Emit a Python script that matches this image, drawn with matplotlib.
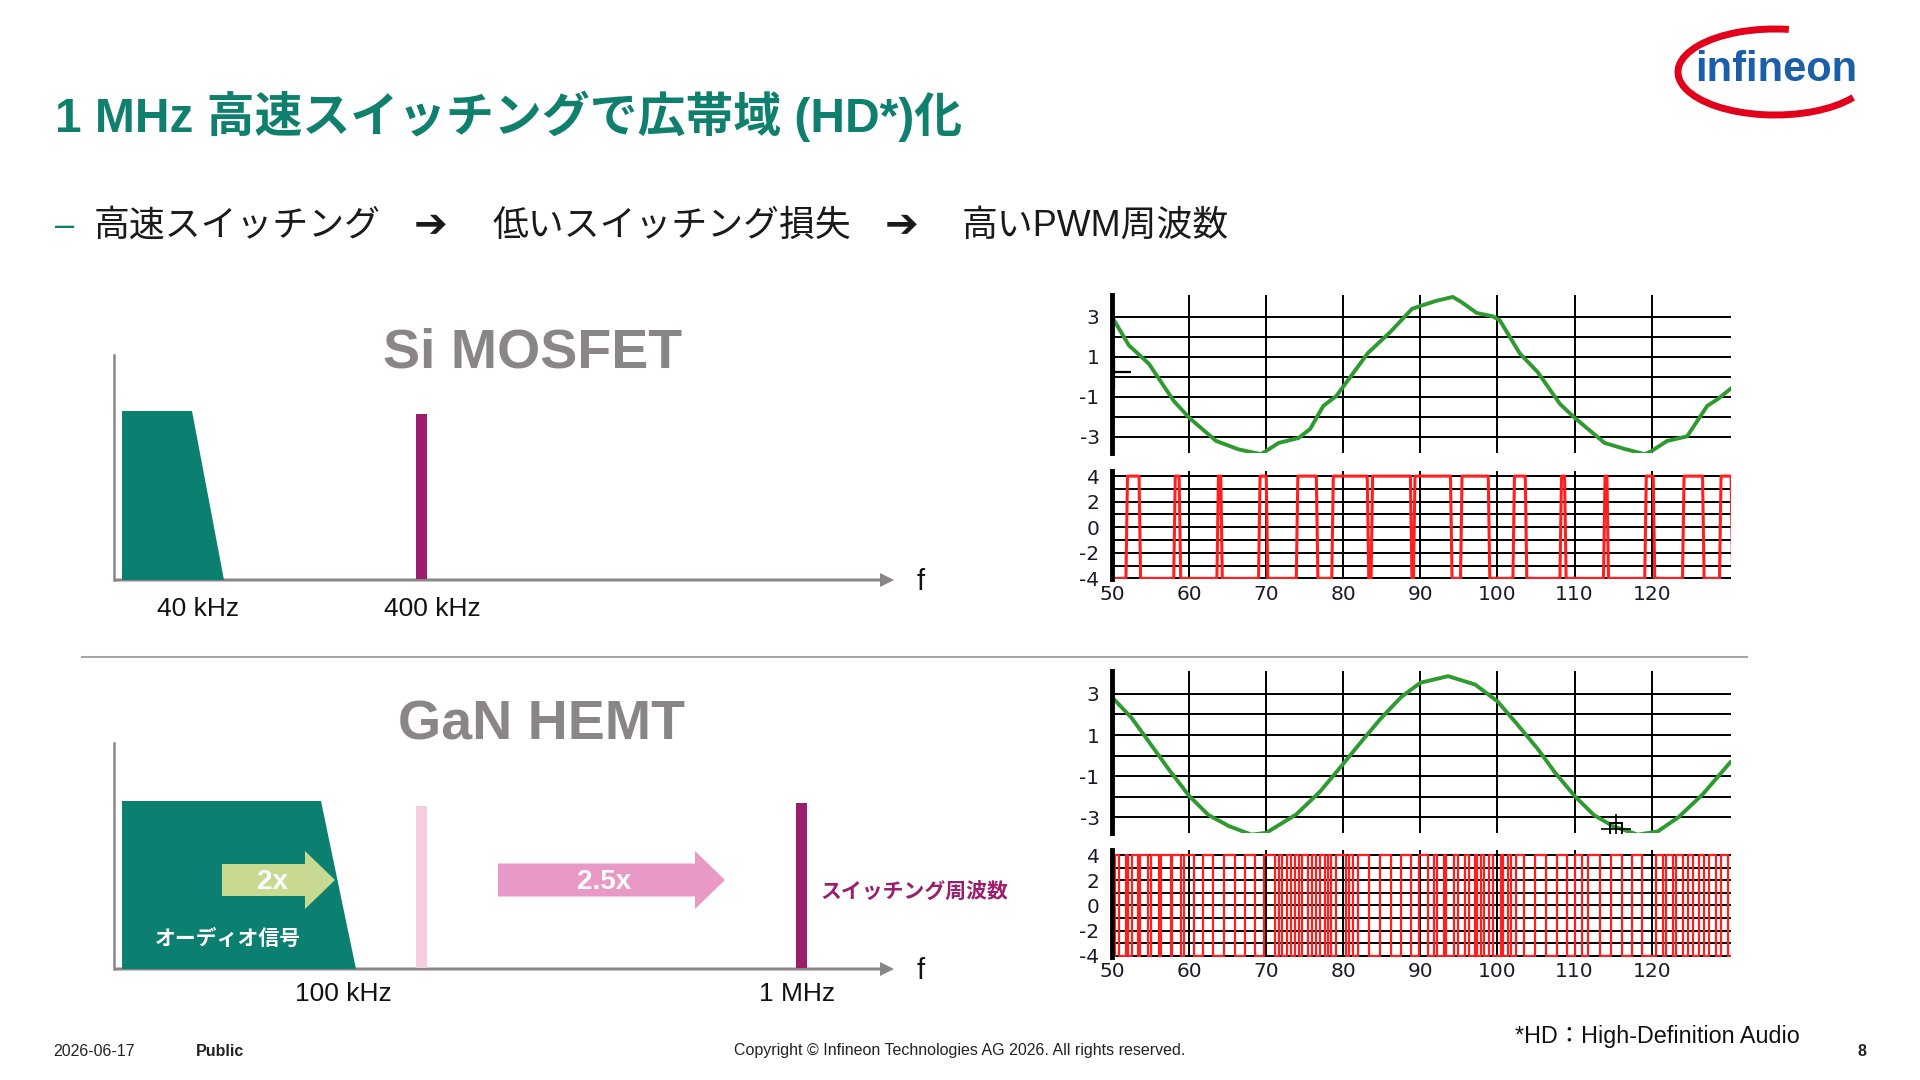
import numpy as np
import matplotlib
matplotlib.use("Agg")
import matplotlib.pyplot as plt
from matplotlib.patches import Arc, FancyArrow

plt.rcParams['font.family'] = ['Liberation Sans', 'Noto Sans CJK JP', 'DejaVu Sans']

# --- data ---
title = "1 MHz 高速スイッチングで広帯域 (HD*)化"
steps = ["高速スイッチング", "低いスイッチング損失", "高いPWM周波数"]
si_labels = ["40 kHz", "400 kHz"]
gan_labels = ["100 kHz", "1 MHz"]

# audio waveform, Si MOSFET (distorted)
top_sine_x = [50, 52.2, 53.4, 54.8, 58.0, 60, 63.5, 66.4, 69.3, 70, 71.6, 74.2, 75.7, 77.4, 79.1,
              83.2, 86.1, 88.9, 90, 92.0, 94.2, 95.3, 97.3, 99.4, 100.3, 102.9, 105.2, 108.1, 110,
              113.9, 116.5, 119.1, 120, 122, 124.6, 127.2, 128.6, 130.2]
top_sine_y = [3.0, 1.57, 1.15, 0.65, -1.2, -2.04, -3.2, -3.62, -3.86, -3.7, -3.3, -3.05, -2.6, -1.45, -0.95,
              1.2, 2.25, 3.4, 3.55, 3.8, 4.0, 3.75, 3.2, 3.03, 2.83, 1.17, 0.25, -1.35, -2.04,
              -3.3, -3.6, -3.86, -3.7, -3.2, -2.97, -1.45, -1.1, -0.6]
# PWM, Si MOSFET (high intervals)
top_pwm_rise = [51.8, 58.0, 63.6, 69.0, 73.9, 78.5, 83.6, 89.1, 95.2, 102.0, 108.1, 113.75, 119.1, 124.0, 128.8]
top_pwm_fall = [53.5, 58.7, 64.1, 70.0, 76.5, 83.1, 88.7, 93.9, 98.8, 103.6, 108.7, 114.2, 120.2, 126.6, 130.3]

# audio waveform, GaN HEMT
bot_sine_x = [50, 52.5, 54.8, 57.5, 60, 62.5, 65.2, 68.1, 70, 73.9, 77, 80, 82.5, 84.9, 87.5, 90,
              93.6, 97.1, 100, 102.5, 105.2, 107.5, 110, 112.5, 115, 118.2, 120.8, 123.5, 126.6, 130.2]
bot_sine_y = [2.84, 1.85, 0.66, -0.75, -1.97, -2.9, -3.45, -3.86, -3.77, -2.87, -1.75, -0.4, 0.75, 1.82, 2.85, 3.55,
              3.87, 3.46, 2.64, 1.55, 0.33, -0.85, -1.97, -2.9, -3.45, -3.86, -3.7, -3.0, -1.9, -0.33]
# PWM, GaN HEMT (switching edges)
bot_pwm_edges = [50.4, 50.85, 51.8, 52.1, 52.65, 53.3, 53.6, 54.7, 55.0, 56.1, 56.4, 57.6, 57.8, 59.0, 59.3,
                 60.6, 61.8, 63.1, 64.5, 65.9, 67.2, 68.5, 69.7, 71.2, 71.7, 72.1, 72.7, 73.2, 73.7, 74.2,
                 74.7, 75.4, 75.9, 76.5, 77.0, 77.6, 78.0, 78.4, 79.0, 80.4, 80.7, 81.3, 81.9, 83.3, 84.7,
                 86.2, 87.5, 88.8, 89.8, 91.0, 91.7, 92.1, 93.0, 93.3, 94.4, 94.85, 95.8, 96.3, 97.1, 97.4,
                 97.9, 98.3, 98.9, 99.4, 100.4, 100.7, 101.3, 101.8, 102.4, 103.4, 104.9, 106.3, 107.7,
                 109.0, 110.0, 110.9, 111.8, 113.25, 114.7, 116.1, 117.4, 118.7, 120.6, 121.5, 121.9,
                 122.8, 123.2, 124.1, 124.7, 125.3, 126.2, 126.8, 127.5, 128.3, 129.0, 129.9]

TEAL = '#0f7f6e'
PURPLE = '#9b1d6c'
GRAY = '#8a8686'

fig = plt.figure(figsize=(19.2, 10.8), dpi=100)
bg = fig.add_axes([0, 0, 1, 1])
bg.set_xlim(0, 1920)
bg.set_ylim(1080, 0)
bg.axis('off')

# header
bg.text(55, 116, title, fontsize=34.5, fontweight='bold', color=TEAL, va='center')
bg.text(55, 226, "–", fontsize=25, color=TEAL, va='center')
for txt, x in zip(steps, [94, 492, 962]):
    bg.text(x, 226, txt, fontsize=25.8, color='#1a1a1a', va='center')
for x in [414, 885]:
    bg.text(x, 226, "➔", fontsize=29, fontweight='bold', color='#1a1a1a', va='center',
            family=['DejaVu Sans'])

# logo
bg.add_patch(Arc((1775, 72), 194, 86, theta1=18, theta2=288, color='#e3001b', lw=5))
bg.text(1776, 70, "infineon", fontsize=30, fontweight='bold', color='#1b5fa9',
        ha='center', va='center', family=['Liberation Sans Narrow', 'Liberation Sans'])

# separator
bg.plot([82, 1747], [657, 657], color='#a6a6a6', lw=1.5)


def spectrum(y0, ytop, band_top_r, band_bot_r, band_top_y):
    bg.plot([114, 114], [ytop, y0], color=GRAY, lw=1.8)
    bg.add_patch(FancyArrow(114, y0, 780, 0, width=3, head_width=14, head_length=14,
                            length_includes_head=True, color=GRAY, lw=0))
    bg.text(921, y0 + 2, "f", fontsize=21, va='center', ha='center', color='#111111')
    bg.fill([122, band_top_r, band_bot_r, 122], [band_top_y, band_top_y, y0, y0], color='#0b8070', lw=0)


# Si MOSFET
spectrum(580, 355, 192, 224, 411)
bg.fill([416, 427, 427, 416], [414, 414, 579, 579], color=PURPLE, lw=0)
bg.text(533, 353, "Si MOSFET", fontsize=40, fontweight='bold', color=GRAY, ha='center', va='center')
for txt, x in zip(si_labels, [198, 432]):
    bg.text(x, 609, txt, fontsize=19, ha='center', va='center', color='#111111')

# GaN HEMT
spectrum(969, 743, 321, 356, 801)
bg.fill([416, 427, 427, 416], [806, 806, 968, 968], color='#f6cde0', lw=0)
bg.fill([796, 807, 807, 796], [803, 803, 968, 968], color=PURPLE, lw=0)
bg.add_patch(FancyArrow(222, 880, 113, 0, width=32, head_width=58, head_length=30,
                        length_includes_head=True, color='#c8d992', lw=0))
bg.add_patch(FancyArrow(498, 880, 227, 0, width=33, head_width=58, head_length=30,
                        length_includes_head=True, color='#e899c6', lw=0))
bg.text(272, 882, "2x", fontsize=20, fontweight='bold', color='white', ha='center', va='center')
bg.text(604, 882, "2.5x", fontsize=20, fontweight='bold', color='white', ha='center', va='center')
bg.text(820, 893, "スイッチング周波数", fontsize=15, fontweight='bold', color=PURPLE, va='center')
bg.text(155, 939, "オーディオ信号", fontsize=15, fontweight='bold', color='white', va='center')
bg.text(541, 726, "GaN HEMT", fontsize=40, fontweight='bold', color=GRAY, ha='center', va='center')
for txt, x in zip(gan_labels, [343, 797]):
    bg.text(x, 994, txt, fontsize=19, ha='center', va='center', color='#111111')

# footer
bg.text(53, 1051, "2026-06-17", fontsize=11.5, va='center', color='#222222')
bg.text(196, 1051, "Public", fontsize=11.5, fontweight='bold', va='center', color='#222222')
bg.text(960, 1051, "Copyright © Infineon Technologies AG 2026. All rights reserved.",
        fontsize=11.5, ha='center', va='center', color='#222222')
bg.text(1515, 1036, "*HD：High-Definition Audio", fontsize=16.8, va='center', color='#111111')
bg.text(1862, 1051, "8", fontsize=11.5, fontweight='bold', ha='center', va='center', color='#222222')


# --- waveform plots ---
def scope_axes(rect, yticks, labeled, ylim, show_x):
    ax = fig.add_axes(rect)
    ax.set_xlim(50, 130.3)
    ax.set_ylim(*ylim)
    ax.set_xticks(range(50, 130, 10))
    ax.set_yticks(yticks)
    ax.set_yticklabels([str(t) if t in labeled else '' for t in yticks])
    ax.grid(True, color='black', lw=1.4)
    ax.set_axisbelow(True)
    for s in ['top', 'right', 'bottom']:
        ax.spines[s].set_visible(False)
    ax.spines['left'].set_linewidth(3.5)
    ax.tick_params(length=0, labelsize=14.5, labelcolor='#1a1a2a', labelbottom=show_x)
    ax.tick_params(axis='y', pad=9)
    ax.tick_params(axis='x', pad=4)
    for lab in ax.get_xticklabels() + ax.get_yticklabels():
        lab.set_family('DejaVu Sans')
    ax.patch.set_alpha(0)
    return ax


def pwm_trace(rise, fall, slope):
    xs, ys = [50], [-4]
    for r, f in zip(rise, fall):
        xs += [r, r + slope, f, f + slope]
        ys += [-4, 4, 4, -4]
    return xs, ys


def toggle_trace(edges):
    xs, ys, level = [50], [-4], -4
    for e in edges:
        xs += [e, e]
        ys += [level, -level]
        level = -level
    xs.append(130.3)
    ys.append(level)
    return xs, ys


green_ticks = list(range(-3, 4))
red_ticks = list(range(-4, 5))

ax1 = scope_axes([0.5792, 0.5806, 0.3224, 0.1463], green_ticks, [-3, -1, 1, 3], (-3.8, 4.1), False)
ax1.plot(top_sine_x, top_sine_y, color='#2f9a2f', lw=2.8, solid_joinstyle='round')
ax1.plot([50.3], [0.23], marker='+', color='black', ms=24, mew=1.6)

ax2 = scope_axes([0.5792, 0.4639, 0.3224, 0.1000], red_ticks, [-4, -2, 0, 2, 4], (-4.05, 4.4), True)
px, py = pwm_trace(top_pwm_rise, top_pwm_fall, 0.2)
ax2.plot(px, py, color='#ff1f1f', lw=2.2)

ax3 = scope_axes([0.5792, 0.2283, 0.3224, 0.1500], green_ticks, [-3, -1, 1, 3], (-3.8, 4.1), False)
ax3.plot(bot_sine_x, bot_sine_y, color='#2f9a2f', lw=2.8, solid_joinstyle='round')
ax3.plot([115.4], [-3.56], marker='s', mfc='none', mec='black', ms=9, mew=1.4)
ax3.plot([115.4], [-3.56], marker='+', color='black', ms=22, mew=1.2)

ax4 = scope_axes([0.5792, 0.1143, 0.3224, 0.0987], red_ticks, [-4, -2, 0, 2, 4], (-4.05, 4.4), True)
bx, by = toggle_trace(bot_pwm_edges)
ax4.plot(bx, by, color='#ff1f1f', lw=1.6)

fig.savefig("out.png", dpi=100, facecolor='white')
